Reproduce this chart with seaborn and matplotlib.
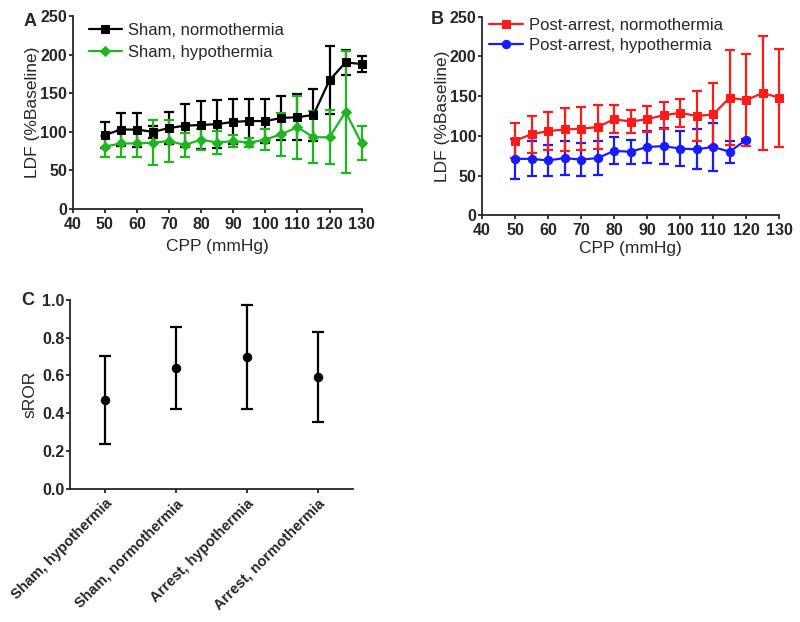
import matplotlib
matplotlib.use("Agg")
import matplotlib.pyplot as plt
import seaborn as sns
import pandas as pd

# %% Data
cpp = [50, 55, 60, 65, 70, 75, 80, 85, 90, 95, 100, 105, 110, 115, 120, 125, 130]

sham_normo = [96, 103, 103, 100, 105, 108, 109, 110, 113, 114, 114, 118, 119, 122, 167, 190, 188]
sham_normo_err = [17, 21, 22, 8, 21, 28, 31, 31, 29, 29, 28, 28, 30, 34, 44, 16, 11]

sham_hypo = [81, 85, 85, 86, 88, 83, 90, 86, 88, 86, 90, 97, 106, 93, 93, 126, 85]
sham_hypo_err = [13, 18, 18, 29, 27, 15, 14, 15, 8, 6, 14, 28, 41, 34, 35, 79, 22]

cpp_hypo_arrest = cpp[:15]
arrest_normo = [94, 102, 106, 108, 109, 111, 121, 118, 121, 126, 129, 125, 127, 148, 145, 154, 148]
arrest_normo_err = [22, 23, 24, 27, 27, 28, 18, 15, 16, 17, 18, 32, 40, 60, 58, 72, 62]

arrest_hypo = [71, 71, 69, 72, 70, 72, 81, 80, 86, 87, 84, 83, 86, 80, 95]
arrest_hypo_err = [25, 22, 20, 21, 21, 21, 17, 15, 20, 23, 22, 25, 30, 14, 1]

groups = ["Sham, hypothermia", "Sham, normothermia", "Arrest, hypothermia", "Arrest, normothermia"]
sror = [0.47, 0.64, 0.695, 0.59]
sror_err = [0.234, 0.216, 0.275, 0.238]

# %% Style
sns.set_style("ticks")
plt.rcParams["font.family"] = ["Liberation Sans", "DejaVu Sans"]
plt.rcParams["axes.linewidth"] = 1.3
plt.rcParams["xtick.major.width"] = 1.3
plt.rcParams["ytick.major.width"] = 1.3
plt.rcParams["xtick.major.size"] = 3
plt.rcParams["ytick.major.size"] = 3
plt.rcParams["xtick.major.pad"] = 2.5
plt.rcParams["ytick.major.pad"] = 1

fig = plt.figure(figsize=(8, 6.22), dpi=100)
ax_a = fig.add_axes([0.091, 0.664, 0.361, 0.310])
ax_b = fig.add_axes([0.6025, 0.654, 0.3715, 0.319])
ax_c = fig.add_axes([0.0875, 0.214, 0.354, 0.304])

GREEN = "#1fb51f"
RED = "#ff1a1a"
BLUE = "#1a1aff"
TICK_FS = 11.5


def draw_series(ax, x, y, err, color, marker, label, msize, z):
    df = pd.DataFrame({"CPP": x, "LDF": y})
    ax.errorbar(x, y, yerr=err, fmt="none", ecolor=color, elinewidth=1.6,
                capsize=3.5, capthick=1.6, clip_on=False, zorder=z)
    sns.lineplot(data=df, x="CPP", y="LDF", ax=ax, color=color, marker=marker,
                 markersize=msize, markeredgecolor=color, linewidth=1.6,
                 label=label, clip_on=False, zorder=z + 2)


def style_ldf(ax, xpad):
    ax.set_xlim(40, 130)
    ax.set_ylim(0, 250)
    ax.set_xticks(range(40, 131, 10))
    ax.set_yticks(range(0, 251, 50))
    ax.set_xlabel("CPP (mmHg)", fontsize=12.5, labelpad=xpad)
    ax.set_ylabel("LDF (%Baseline)", fontsize=12.5, labelpad=0)
    for lab in ax.get_xticklabels() + ax.get_yticklabels():
        lab.set_fontweight("bold")
        lab.set_fontsize(TICK_FS)
    sns.despine(ax=ax)


# %% Panel A
draw_series(ax_a, cpp, sham_normo, sham_normo_err, "black", "s", "Sham, normothermia", 6, 2)
draw_series(ax_a, cpp, sham_hypo, sham_hypo_err, GREEN, "D", "Sham, hypothermia", 5, 2.5)
style_ldf(ax_a, 5)
ax_a.legend(loc="upper left", bbox_to_anchor=(0.055, 0.965), frameon=False,
            fontsize=12, handlelength=2.0, handletextpad=0.35, labelspacing=0.4,
            borderpad=0, borderaxespad=0)

# %% Panel B
draw_series(ax_b, cpp_hypo_arrest, arrest_hypo, arrest_hypo_err, BLUE, "o", "Post-arrest, hypothermia", 6, 2)
draw_series(ax_b, cpp, arrest_normo, arrest_normo_err, RED, "s", "Post-arrest, normothermia", 6, 2.5)
style_ldf(ax_b, 2)
h, l = ax_b.get_legend_handles_labels()
ax_b.legend(h[::-1], l[::-1], loc="upper left", bbox_to_anchor=(0.025, 0.995),
            frameon=False, fontsize=12, handlelength=2.0, handletextpad=0.35,
            labelspacing=0.3, borderpad=0, borderaxespad=0)

# %% Panel C
df_c = pd.DataFrame({"group": groups, "sROR": sror})
ax_c.errorbar(range(len(groups)), sror, yerr=sror_err, fmt="none", ecolor="black",
              elinewidth=1.6, capsize=4, capthick=1.6, zorder=2)
sns.scatterplot(data=df_c, x="group", y="sROR", ax=ax_c, color="black", s=40,
                edgecolor="black", zorder=3)
ax_c.set_xlim(-0.5, 3.5)
ax_c.set_ylim(0, 1.0)
ax_c.set_yticks([0.0, 0.2, 0.4, 0.6, 0.8, 1.0])
ax_c.set_yticklabels(["0.0", "0.2", "0.4", "0.6", "0.8", "1.0"])
ax_c.set_xlabel("")
ax_c.set_ylabel("sROR", fontsize=12.5, labelpad=3)
ax_c.set_xticks(range(len(groups)))
ax_c.set_xticklabels(groups, rotation=45, ha="right", rotation_mode="anchor")
for lab in ax_c.get_yticklabels():
    lab.set_fontweight("bold")
    lab.set_fontsize(TICK_FS)
for lab in ax_c.get_xticklabels():
    lab.set_fontweight("bold")
    lab.set_fontsize(10.5)
sns.despine(ax=ax_c)

# %% Panel letters
fig.text(0.030, 0.965, "A", fontsize=13, fontweight="bold", va="center")
fig.text(0.538, 0.968, "B", fontsize=13, fontweight="bold", va="center")
fig.text(0.027, 0.517, "C", fontsize=13, fontweight="bold", va="center")

fig.savefig("out.png", dpi=100)
